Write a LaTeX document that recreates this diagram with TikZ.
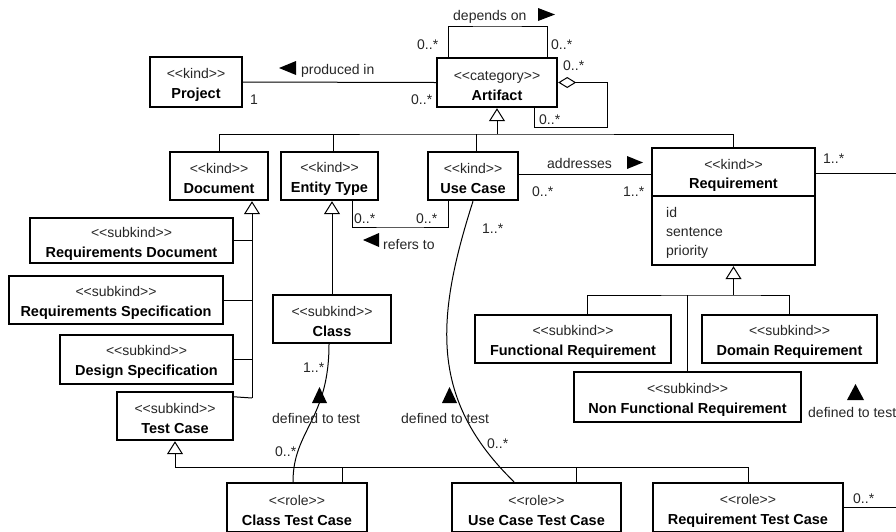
\documentclass[tikz,border=0pt]{standalone}
\usepackage{fontspec}
\setmainfont{Liberation Sans}
\usetikzlibrary{arrows.meta}
\newcommand\stt[1]{{\color{black!85}<\kern0pt<#1>\kern0pt>}}
\newcommand\bst[1]{\rule{0pt}{16pt}\stt{#1}}
\newcommand\nmm[1]{{\fontsize{14.5}{20}\selectfont\bfseries #1}}
\begin{document}
\begin{tikzpicture}[x=1pt,y=-1pt,
  box/.style={draw, line width=2.4pt, inner sep=0pt, align=center, font=\fontsize{14}{20}\selectfont},
  ln/.style={line width=1pt},
  gen/.style={ln, -{Triangle[open,length=13pt,width=16pt,line width=1pt]}},
  aggr/.style={ln, {Diamond[open,length=18pt,width=11pt,line width=1pt]}-},
  lbl/.style={font=\fontsize{14}{16}\selectfont, inner sep=0pt, anchor=base west, text=black!85},
  dir/.style={fill=black},
]
\useasboundingbox (0,0) rectangle (896,531);
% classes
\node[box, minimum width=92pt, minimum height=50pt] (prj) at (196,82) {\bst{kind}\\\nmm{Project}};
\node[box, minimum width=120pt, minimum height=49pt] (art) at (497,82.5) {\bst{category}\\\nmm{Artifact}};
\node[box, minimum width=98pt, minimum height=48pt] (doc) at (219,176) {\bst{kind}\\\nmm{Document}};
\node[box, minimum width=97pt, minimum height=48pt] (ent) at (329.5,176) {\bst{kind}\\\nmm{Entity Type}};
\node[box, minimum width=90pt, minimum height=48pt] (uc) at (473,176) {\bst{kind}\\\nmm{Use Case}};
\node[box, minimum width=163pt, minimum height=117pt] (req) at (733.5,206.5) {};
\node[lbl, anchor=center] (reqst) at (733.5,164) {\stt{kind}};
\node[lbl, anchor=center, text=black] (reqnm) at (733.5,185) {\nmm{Requirement}};
\draw[line width=1.2pt] (req.west |- 0,196) -- (req.east |- 0,196);
\node[lbl] (a1) at (666,217) {id};
\node[lbl] (a2) at (666,236) {sentence};
\node[lbl] (a3) at (666,255) {priority};
\node[box, minimum width=203pt, minimum height=45pt] (rd) at (131.5,240.5) {\bst{subkind}\\\nmm{Requirements Document}};
\node[box, minimum width=214pt, minimum height=48pt] (rs) at (116,300) {\bst{subkind}\\\nmm{Requirements Specification}};
\node[box, minimum width=173pt, minimum height=49pt] (ds) at (146.5,359.5) {\bst{subkind}\\\nmm{Design Specification}};
\node[box, minimum width=116pt, minimum height=48pt] (tc) at (175,416) {\bst{subkind}\\\nmm{Test Case}};
\node[box, minimum width=118pt, minimum height=48pt] (cls) at (332,319) {\bst{subkind}\\\nmm{Class}};
\node[box, minimum width=196pt, minimum height=48pt] (fr) at (573,339) {\bst{subkind}\\\nmm{Functional Requirement}};
\node[box, minimum width=175pt, minimum height=48pt] (dr) at (789.5,339) {\bst{subkind}\\\nmm{Domain Requirement}};
\node[box, minimum width=227pt, minimum height=50pt] (nfr) at (687.5,397) {\bst{subkind}\\\nmm{Non Functional Requirement}};
\node[box, minimum width=140pt, minimum height=49pt] (ctc) at (297,507.5) {\bst{role}\\\nmm{Class Test Case}};
\node[box, minimum width=169pt, minimum height=49pt] (uctc) at (536.5,507.5) {\bst{role}\\\nmm{Use Case Test Case}};
\node[box, minimum width=190pt, minimum height=49pt] (rtc) at (748,507.5) {\bst{role}\\\nmm{Requirement Test Case}};
% junction coordinates
\coordinate (dep) at (497,26);
\coordinate (agg) at (607,127);
\coordinate (aj) at (497,134);
\coordinate (ref) at (400,227);
\coordinate (dj) at (252,398);
\coordinate (rj) at (733.5,295);
\coordinate (tj) at (175,467);
\coordinate (rqout) at (896,173);
\coordinate (rtout) at (896,507);
% associations
\draw[ln] (prj.east) -- (art.west);
\draw[ln] ([xshift=-49pt]art.north) |- (dep) -| ([xshift=50pt]art.north);
\draw[aggr] (art.east) -| (agg) -| ([xshift=37pt]art.south);
\draw[ln] ([yshift=2pt]uc.east) -- ([yshift=2pt]uc.east -| req.west);
\draw[ln] (req.east |- rqout) -- (rqout);
\draw[ln] ([xshift=22.5pt]ent.south) |- (ref) -| ([xshift=-25pt]uc.south);
\draw[ln] ([xshift=-3pt]cls.south) .. controls (329,420) and (293,430) .. ([xshift=-4pt]ctc.north);
\draw[ln] (uc.south) .. controls (435,320) and (430,400) .. ([xshift=-22.5pt]uctc.north);
\draw[ln] (rtc.east |- rtout) -- (rtout);
% generalizations
\draw[gen] (aj) -- (art.south);
\draw[ln] (doc.north) |- (aj) -| (req.north);
\draw[ln] ([xshift=3.5pt]ent.north) -- ([xshift=3.5pt]ent.north |- aj);
\draw[ln] ([xshift=3pt]uc.north) -- ([xshift=3pt]uc.north |- aj);
\draw[gen] (dj) -- ([xshift=33pt]doc.south);
\draw[ln] (rd.east) -- (rd.east -| dj);
\draw[ln] (rs.east) -- (rs.east -| dj);
\draw[ln] (ds.east) -- (ds.east -| dj);
\draw[ln] ([yshift=-6pt]tc.north east) -- (dj);
\draw[gen] (cls.north) -- (cls.north |- ent.south);
\draw[gen] (rj) -- (req.south);
\draw[ln] ([xshift=14pt]fr.north) |- (rj) -| (dr.north);
\draw[ln] (nfr.north) -- (nfr.north |- rj);
\draw[gen] (tj) -- (tc.south);
\draw[ln] (tj) -| (rtc.north);
\draw[ln] ([xshift=45pt]ctc.north) -- ([xshift=45pt]ctc.north |- tj);
\draw[ln] ([xshift=39.5pt]uctc.north) -- ([xshift=39.5pt]uctc.north |- tj);
% labels
\node[lbl] (l1) at (453,20) {depends on};
\fill[dir] (555,14.5) -- (538,8) -- (538,21) -- cycle;
\node[lbl] (l2) at (301,74) {produced in};
\fill[dir] (279,68) -- (296,61) -- (296,75) -- cycle;
\node[lbl] (l3) at (547,168) {addresses};
\fill[dir] (643,162.5) -- (627,156) -- (627,169) -- cycle;
\node[lbl] (l4) at (383,249) {refers to};
\fill[dir] (363,240) -- (379,233) -- (379,247) -- cycle;
\node[lbl] (l5) at (272,423) {defined to test};
\fill[dir] (319.5,387) -- (312,403) -- (327,403) -- cycle;
\node[lbl] (l6) at (401,423) {defined to test};
\fill[dir] (449.5,387) -- (442,403) -- (457,403) -- cycle;
\node[lbl] (l7) at (808,417) {defined to test};
\fill[dir] (855.5,384) -- (847,400) -- (864,400) -- cycle;
% multiplicities
\node[lbl] (m1) at (250,104) {1};
\node[lbl] (m2) at (411,104) {0..*};
\node[lbl] (m3) at (417,49) {0..*};
\node[lbl] (m4) at (551,49) {0..*};
\node[lbl] (m5) at (563,70) {0..*};
\node[lbl] (m6) at (539,124) {0..*};
\node[lbl] (m7) at (532,196) {0..*};
\node[lbl] (m8) at (623,196) {1..*};
\node[lbl] (m9) at (823,163) {1..*};
\node[lbl] (m10) at (354,223) {0..*};
\node[lbl] (m11) at (416,223) {0..*};
\node[lbl] (m12) at (482,233) {1..*};
\node[lbl] (m13) at (303,372) {1..*};
\node[lbl] (m14) at (275,456) {0..*};
\node[lbl] (m15) at (487,448) {0..*};
\node[lbl] (m16) at (853,503) {0..*};
\end{tikzpicture}
\end{document}
